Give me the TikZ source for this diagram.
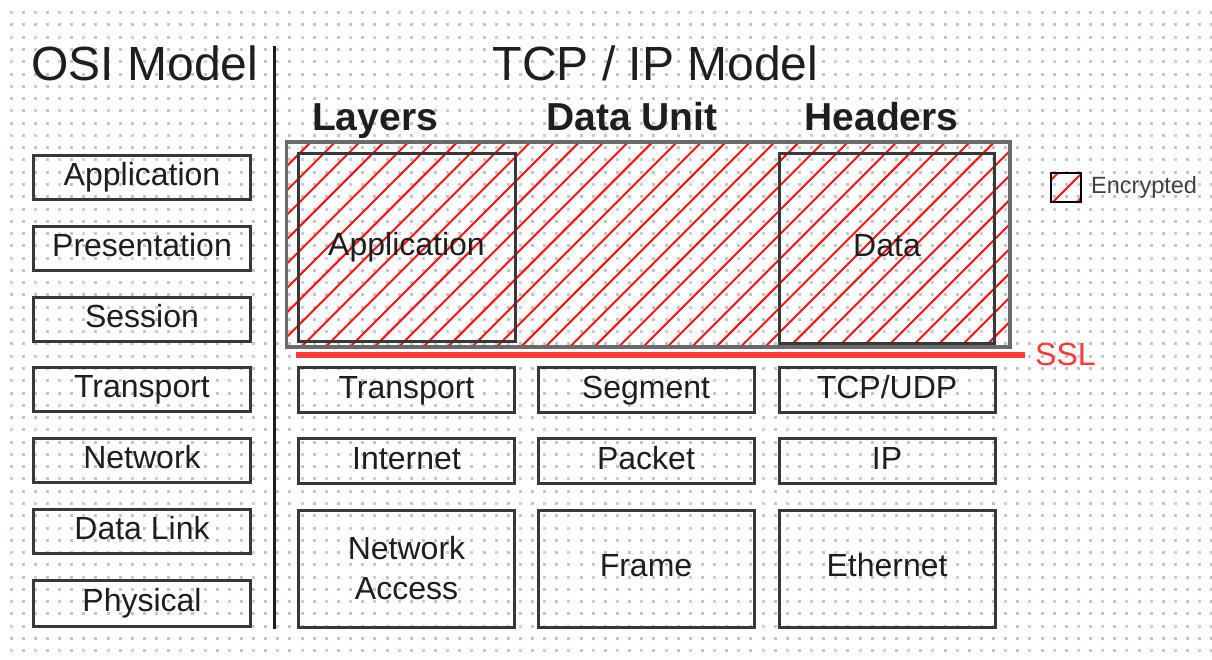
\documentclass[tikz,border=0pt]{standalone}
\usepackage{fontspec}
\setmainfont{Liberation Sans}
\definecolor{dotgray}{HTML}{C4C4C4}
\definecolor{dotblue}{HTML}{CACAFF}
\definecolor{boxline}{HTML}{383838}
\definecolor{frameline}{HTML}{6A6A6A}
\definecolor{ink}{HTML}{1E1E1E}
\definecolor{hatchred}{HTML}{FF1010}
\definecolor{sslred}{HTML}{FF3838}
\begin{document}
\begin{tikzpicture}[x=1pt,y=-1pt,
  boxtext/.style={text=ink, font=\fontsize{32}{40}\selectfont, align=center},
  oneline/.style={text height=23pt, text depth=7pt},
  layerbox/.style={draw=boxline, line width=3pt, inner sep=0pt, boxtext,
                   minimum width=216pt, minimum height=45pt},
  osibox/.style={layerbox, oneline, minimum width=217pt, minimum height=44pt},
  title/.style={anchor=base, inner sep=0pt, text=ink, font=\fontsize{48}{48}\selectfont},
  colhead/.style={anchor=base, inner sep=0pt, text=ink, font=\fontsize{39}{39}\selectfont\bfseries},
  hatchline/.style={hatchred, line width=2pt}
]
% canvas
\fill[white] (0,0) rectangle (1212,659);
\useasboundingbox (0,0) rectangle (1212,659);

% dotted grid paper
\foreach \j in {0,...,52}{
  \foreach \i in {0,...,99}{
    \pgfmathtruncatemacro\isblue{(mod(\j,2)==0)&&(mod(\i,2)==0)}
    \ifnum\isblue=1 \def\dotcol{dotblue}\else\def\dotcol{dotgray}\fi
    \fill[\dotcol] ({11+12.13*\i-1.5},{12.7+12.27*\j-1.5}) rectangle +(3,3);
  }
}

% titles
\node[title] (osi-title) at (145,80) {OSI Model};
\node[title] (tcp-title) at (655.5,80) {TCP / IP Model};

% divider between the two models
\coordinate (div-top) at (274,46);
\coordinate (div-bot) at (274,629);
\draw[ink, line width=3pt] (div-top) -- (div-bot);

% column headings
\node[colhead] (hdr-layers)  at (375,130)   {Layers};
\node[colhead] (hdr-unit)    at (632,130)   {Data Unit};
\node[colhead] (hdr-headers) at (881.5,130) {Headers};

% OSI stack
\node[osibox] (osi-app)   at (142,177)   {Application};
\node[osibox] (osi-pres)  at (142,248)   {Presentation};
\node[osibox] (osi-ses)   at (142,319)   {Session};
\node[osibox] (osi-trans) at (142,389.5) {Transport};
\node[osibox] (osi-net)   at (142,460.5) {Network};
\node[osibox] (osi-dl)    at (142,531.5) {Data Link};
\node[osibox, minimum height=46pt] (osi-phys) at (142,603.5) {Physical};

% encrypted region hatching
\begin{scope}
  \clip (286.5,142) rectangle (1010,347);
  \foreach \k in {-3,...,35}{
    \draw[hatchline] ({501.7+24.41*\k-100},100) -- ++(-300,300);
  }
\end{scope}

% TCP/IP application layer (encrypted)
\node[layerbox, oneline, minimum width=217pt, minimum height=188pt] (tcp-app) at (406.5,247) {Application};
\node[layerbox, oneline, minimum width=215pt, minimum height=190pt] (hdr-data) at (887,248) {Data};
\node[draw=frameline, line width=3.5pt, inner sep=0pt, minimum width=723.5pt, minimum height=205pt] (tls-region) at (648.25,244.5) {};

% SSL boundary
\coordinate (ssl-start) at (296,355);
\coordinate (ssl-end) at (1025,355);
\draw[sslred, line width=6.5pt] (ssl-start) -- (ssl-end);
\node[anchor=base west, inner sep=0pt, text=sslred, font=\fontsize{32}{32}\selectfont] (ssl) at (1035,365) {SSL};

% transport row
\node[layerbox, oneline] (tcp-trans) at (406.5,390) {Transport};
\node[layerbox, oneline] (segment)   at (646,390)   {Segment};
\node[layerbox, oneline] (tcpudp)    at (887,390)   {TCP/UDP};

% internet row
\node[layerbox, oneline] (internet) at (406.5,461) {Internet};
\node[layerbox, oneline] (packet)   at (646,461)   {Packet};
\node[layerbox, oneline] (ip)       at (887,461)   {IP};

% network access row
\node[layerbox, minimum height=117pt] (netaccess) at (406.5,568.5) {Network\\Access};
\node[layerbox, oneline, minimum height=117pt] (frame)    at (646,568.5) {Frame};
\node[layerbox, oneline, minimum height=117pt] (ethernet) at (887,568.5) {Ethernet};

% legend
\begin{scope}
  \clip (1051,173) rectangle (1081,202);
  \foreach \c in {1231,1255,1279}{
    \draw[hatchline] ({\c-150},150) -- ++(-100,100);
  }
\end{scope}
\node[draw=black, line width=2.5pt, inner sep=0pt, minimum width=30pt, minimum height=29pt] (legend-box) at (1066,187.5) {};
\node[anchor=base west, inner sep=0pt, text=ink!85, font=\fontsize{23.5}{23.5}\selectfont] (legend-text) at (1091,193) {Encrypted};
\end{tikzpicture}
\end{document}
